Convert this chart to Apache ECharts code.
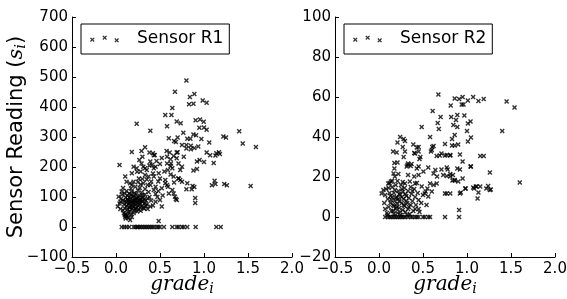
<!DOCTYPE html>
<html>
<head>
<meta charset="utf-8">
<script src="https://cdn.jsdelivr.net/npm/echarts@6/dist/echarts.min.js"></script>
<style>
  html, body { margin: 0; padding: 0; background: #fff; }
  #chart { width: 567px; height: 299px; }
</style>
</head>
<body>
<div id="chart"></div>
<script>
// grade_i vs sensor reading
var seriesNames = ['Sensor R1', 'Sensor R2'];
var gradeTicks = [-0.5, 0.0, 0.5, 1.0, 1.5, 2.0];
var r1Ticks = [-100, 0, 100, 200, 300, 400, 500, 600, 700];
var r2Ticks = [-20, 0, 20, 40, 60, 80, 100];

// [grade, reading]
var r1Points = [
  [0.80,488],[0.67,451],[0.84,433],[0.89,443],[0.83,409],[0.88,411],[0.985,422],[1.03,414],[0.64,397],[0.56,373],
  [0.63,373],[0.235,344],[0.58,336],[0.69,352],[0.735,346],[0.905,356],[0.955,358],[0.997,351],[0.947,331],[1.0,332],
  [1.03,324],[0.39,321],[0.765,314],[0.88,308],[0.91,306],[1.40,319],[1.22,302],[1.25,298],[0.60,296],[0.70,298],
  [0.81,294],[0.845,294],[0.97,293],[1.44,278],[1.59,267],[0.68,283],[0.66,287],[0.75,273],[0.80,273],[0.85,271],
  [0.80,262],[0.85,259],[0.89,263],[1.06,282],[1.03,248],[1.07,239],[1.13,238],[1.18,243],[0.92,218],[0.95,223],
  [1.0,217],[1.11,213],[0.88,188],[0.92,193],[1.12,154],[1.13,143],[1.09,139],[1.23,143],[1.26,139],[1.53,137],
  [0.81,146],[0.80,126],[0.86,126],[0.89,133],[0.87,137],[0.90,97],[0.90,80],[0.71,162],[0.73,157],[0.68,93],
  [0.485,20],[0.18,250],[0.29,253],[0.33,266],[0.38,248],[0.42,246],[0.575,253],[0.61,248],[0.69,248],[0.935,268],
  [1.14,246],[1.17,249],[0.43,239],[0.70,249],[0.30,234],[0.44,240],[0.58,234],[0.655,237],[0.69,229],[0.77,234],
  [0.62,226],[0.71,212],[0.625,212],[0.04,207],[0.29,212],[0.31,201],[0.33,196],[0.39,218],[0.41,207],[0.43,196],
  [0.45,201],[0.50,210],[0.58,212],[0.62,203],[0.64,196],[0.73,190],[0.75,201],[0.59,190],[0.265,223],[0.20,201],
  [0.235,196],[0.105,168],[0.18,179],[0.24,184],[0.26,162],[0.20,151],[0.12,151],[0.16,146],[0.18,140],[0.33,173],
  [0.37,168],[0.43,168],[0.485,179],[0.50,162],[0.56,157],[0.655,168],[0.71,162],[0.75,151],[0.31,146],[0.39,140],
  [0.43,123],[0.45,134],[0.52,129],[0.58,140],[0.64,123],[0.60,112],[0.655,112],[0.56,146],[0.59,134],[0.67,101],
  [0.69,90],[0.52,68],[0.33,79],[0.39,68],[0.45,84],[0.50,90],[0.065,118],[0.10,112],[0.03,101],[0.05,84],
  [0.02,68],[0.10,40],[0.105,34],[0.16,23],
  [0.06,95],[0.08,88],[0.09,75],[0.10,62],[0.11,98],[0.12,82],[0.12,70],[0.13,105],[0.13,58],[0.14,90],
  [0.14,77],[0.15,66],[0.15,112],[0.16,85],[0.16,52],[0.17,96],[0.17,72],[0.18,60],[0.18,118],[0.19,88],
  [0.19,79],[0.20,67],[0.20,103],[0.21,92],[0.21,55],[0.22,84],[0.22,74],[0.23,110],[0.23,63],[0.24,97],
  [0.24,81],[0.25,70],[0.25,122],[0.26,89],[0.26,58],[0.27,104],[0.27,76],[0.28,93],[0.28,66],[0.29,115],
  [0.30,84],[0.30,72],[0.31,98],[0.32,61],[0.33,108],[0.34,88],[0.35,75],[0.36,95],[0.37,117],[0.07,108],
  [0.08,56],[0.09,46],[0.11,43],[0.12,120],[0.13,38],[0.14,49],[0.15,99],[0.16,64],[0.17,42],[0.18,83],
  [0.19,69],[0.20,47],[0.21,113],[0.22,61],[0.23,89],[0.24,52],[0.25,100],[0.26,78],[0.28,54],[0.29,86],
  [0.31,64],[0.32,92],[0.34,70],[0.05,60],[0.04,78],[0.10,86],[0.13,92],[0.15,81],[0.17,108],[0.19,100],
  [0.21,79],[0.23,96],[0.27,87],[0.30,106],[0.12,36],[0.14,30],[0.18,33],[0.11,28],[0.08,130],[0.17,128],
  [0.22,134],[0.27,130],[0.33,127],[0.36,140],[0.28,142],[0.35,158],[0.40,152],[0.42,178],[0.45,110],[0.48,120],
  [0.38,100],[0.40,88],[0.42,72],[0.36,60],[0.47,100],[0.53,105],[0.25,150],[0.30,160],[0.28,185],[0.35,190],
  [0.38,205],[0.46,220],[0.52,230],[0.55,185],[0.62,175],[0.66,148],[0.48,152],
  [0.065,0],[0.094,0],[0.12,0],[0.15,0],[0.20,0],[0.22,0],[0.24,0],[0.25,0],[0.27,0],[0.29,0],
  [0.31,0],[0.33,0],[0.35,0],[0.37,0],[0.39,0],[0.41,0],[0.43,0],[0.46,0],[0.48,0],[0.50,0],
  [0.545,0],[0.64,0],[0.69,0],[0.71,0],[0.75,0],[0.77,0],[0.81,0],[0.905,0],[1.14,0],[1.19,0]
];

var r2Points = [
  [0.675,61.3],[0.86,59.3],[0.91,59],[0.95,60],[1.01,58.3],[1.07,60],[1.13,58],[1.19,59],[0.815,55.8],[0.94,56.3],
  [0.96,56.3],[1.45,57.8],[1.54,54.7],[0.61,53],[0.70,50],[0.82,50],[0.89,51],[0.875,48.5],[0.97,50.7],[0.667,47],
  [0.68,44],[0.845,46],[0.89,45],[1.01,46.8],[1.04,47.8],[0.485,45],[0.58,40],[0.86,41],[1.0,43],[1.045,39.7],
  [1.40,43],[0.24,40],[0.28,39],[0.83,39],[1.01,37.7],[0.75,36.5],[0.83,35.7],[0.86,35.7],[0.90,36.3],[0.62,35.5],
  [0.21,37.3],[0.295,38],[0.27,35],[0.39,36.3],[0.43,34.7],[0.45,35],[0.16,32.7],[0.20,32.3],[0.295,32.7],[0.41,31.8],
  [0.45,32.7],[0.60,33.5],[0.71,31.8],[0.92,31.3],
  [0.28,30],[0.175,27],[0.21,27.3],[0.40,32],[0.47,30],[0.46,29],[0.605,35],[0.59,32.7],[0.655,30.5],[0.69,30.7],
  [0.75,30.7],[0.81,30.7],[1.15,30.5],[1.19,30.5],[0.95,27.7],[1.04,25.2],[1.26,22.3],[1.60,17.2],[0.33,26.8],[0.37,26.5],
  [0.315,25.2],[0.36,25.5],[0.56,24.8],[0.64,23.5],[0.62,21.8],[0.66,20.2],[0.71,23.8],[0.73,21],[0.78,23.8],[0.81,20.2],
  [0.86,18.5],[0.90,17.7],[0.84,21],[0.95,19.3],[0.98,14.3],[0.93,12.3],[1.08,14.3],[1.11,15.2],[1.15,15.2],[1.13,12.2],
  [1.12,9.3],[1.22,14.3],[1.26,13.5],[1.24,15.5],[0.77,11.8],[0.81,11.8],[0.92,11.8],[0.91,3.5],[0.91,0],[0.75,0],
  [0.41,4],[0.45,4],[0.485,15.2],[0.55,14.3],[0.53,12.7],[0.50,11],[0.45,8.5],
  [0.175,24.3],[0.325,26],[0.43,24.3],[0.45,25.2],[0.505,22.7],[0.165,21.8],[0.22,21.5],[0.18,20.2],[0.33,21],[0.40,20.2],
  [0.45,21],[0.105,16.8],[0.135,17.7],[0.295,16.8],[0.35,17.7],[0.41,16.8],[0.58,16.8],[0.62,16],[0.655,16.8],[0.03,11.8],
  [0.05,13.5],[0.07,11],[0.52,11.8],[0.56,10.2],[0.60,12.7],[0.54,6],[0.75,11.8],[0.77,24.8],[0.89,24.3],[0.92,23.8],
  [1.045,25.2],[0.77,20.5],[0.81,21.5],[0.835,18.2],[0.86,18.2],[1.07,14.8],[1.10,15.2],[1.27,13.8],[0.985,14.3],[0.77,31],
  [0.81,31],
  [0.08,14],[0.10,9],[0.11,5],[0.12,12],[0.13,7],[0.14,3],[0.15,10],[0.15,15],[0.16,6],[0.17,1.5],
  [0.17,12],[0.18,8],[0.19,4],[0.19,16],[0.20,10],[0.21,6.5],[0.21,2],[0.22,13],[0.23,8],[0.23,4.5],
  [0.24,11],[0.25,1],[0.25,16],[0.26,7],[0.27,3.5],[0.27,12.5],[0.28,9],[0.29,5.5],[0.29,14.5],[0.30,2.5],
  [0.31,10.5],[0.32,7],[0.33,4],[0.33,13],[0.34,9.5],[0.35,1.5],[0.36,6],[0.37,11.5],[0.38,8],[0.39,3],
  [0.40,14],[0.41,10],[0.42,6],[0.44,12],[0.46,2.5],[0.48,7],[0.09,2],[0.12,17],[0.14,8.5],[0.16,3],
  [0.18,13.5],[0.20,5],[0.22,9],[0.24,2.5],[0.26,14],[0.28,6],[0.30,11.5],[0.32,1],[0.34,5],[0.36,15],
  [0.06,7],[0.07,4],[0.10,1],[0.13,10.5],[0.19,9.5],[0.26,10],[0.31,8],[0.38,13],[0.43,17],[0.21,18],
  [0.17,5.5],[0.23,11.5],[0.11,14.5],[0.27,17.5],[0.15,18],
  [0.07,0],[0.10,0],[0.12,0],[0.14,0],[0.16,0],[0.18,0],[0.20,0],[0.22,0],[0.24,0],[0.26,0],
  [0.28,0],[0.30,0],[0.33,0],[0.36,0],[0.38,0],[0.41,0],[0.43,0],[0.45,0],[0.50,0],[0.52,0],
  [0.56,0],[0.58,0]
];

var FONT = 'DejaVu Sans';
var MATH = 'DejaVu Serif';

// matplotlib 'x' marker as a filled outline (10x10 box)
var crossPts = [[0,2],[2,0],[5,3],[8,0],[10,2],[7,5],[10,8],[8,10],[5,7],[2,10],[0,8],[3,5]];
function crossPath(cx, cy, h) {
  var s = 2 * h / 10;
  return crossPts.map(function (p, i) {
    return (i ? 'L' : 'M') + (cx - h + p[0] * s).toFixed(2) + ',' + (cy - h + p[1] * s).toFixed(2);
  }).join('') + 'Z';
}
var markerSymbol = 'path://' + crossPath(5, 5, 5);
// three scattered markers in the legend, anchors keep the icon box 45x8
var legendIcon = 'path://M0,0M45,8' + crossPath(5.3, 4.7, 2.3) + crossPath(17.7, 2.7, 2.3) + crossPath(29.7, 5.3, 2.3);

function minus(v) { return String(v).replace('-', '\u2212'); }

var chart = echarts.init(document.getElementById('chart'), null, {renderer: 'canvas'});

function xAxisCfg(gridIndex) {
  return {
    type: 'value', gridIndex: gridIndex,
    min: gradeTicks[0], max: gradeTicks[gradeTicks.length - 1], interval: 0.5,
    splitLine: {show: false},
    axisLine: {show: true, onZero: false, lineStyle: {color: '#000', width: 1}},
    axisTick: {show: true, inside: true, length: 4, lineStyle: {color: '#000'}},
    axisLabel: {color: '#000', fontFamily: FONT, fontSize: 15, margin: 5,
      formatter: function (v) { return minus(v.toFixed(1)); }},
    name: '{m|grade}{sub|i}', nameLocation: 'middle', nameGap: 16, nameMoveOverlap: false,
    nameTextStyle: {rich: {
      m: {fontFamily: MATH, fontStyle: 'italic', fontSize: 20, color: '#000'},
      sub: {fontFamily: MATH, fontStyle: 'italic', fontSize: 14, color: '#000', padding: [9, 0, 0, 0]}
    }}
  };
}

function yAxisCfg(gridIndex, ticks, withName) {
  var cfg = {
    type: 'value', gridIndex: gridIndex,
    min: ticks[0], max: ticks[ticks.length - 1], interval: ticks[1] - ticks[0],
    splitLine: {show: false},
    axisLine: {show: true, onZero: false, lineStyle: {color: '#000', width: 1}},
    axisTick: {show: true, inside: true, length: 4, lineStyle: {color: '#000'}},
    axisLabel: {color: '#000', fontFamily: FONT, fontSize: 15, margin: 4, formatter: minus}
  };
  if (withName) {
    cfg.name = '{t|Sensor Reading (}{m|s}{sub|i}{t|)}';
    cfg.nameLocation = 'middle';
    cfg.nameGap = 43;
    cfg.nameMoveOverlap = false;
    cfg.nameTextStyle = {rich: {
      t: {fontFamily: FONT, fontSize: 21, color: '#000'},
      m: {fontFamily: MATH, fontStyle: 'italic', fontSize: 21, color: '#000'},
      sub: {fontFamily: MATH, fontStyle: 'italic', fontSize: 15, color: '#000', padding: [10, 0, 0, 0]}
    }};
  }
  return cfg;
}

function legendCfg(name, left) {
  return {
    data: [name], left: left, top: 24, orient: 'horizontal',
    icon: legendIcon, itemWidth: 45, itemHeight: 8,
    padding: [5, 6, 5, 6], borderColor: '#000', borderWidth: 1, borderRadius: 0,
    backgroundColor: '#fff', selectedMode: false,
    textStyle: {fontFamily: FONT, fontSize: 17, color: '#000', lineHeight: 20}
  };
}

var option = {
  animation: false,
  backgroundColor: '#fff',
  grid: [
    {left: 72, top: 17, width: 220, height: 240, containLabel: false, outerBoundsMode: 'none'},
    {left: 335, top: 17, width: 220, height: 240, containLabel: false, outerBoundsMode: 'none'}
  ],
  xAxis: [xAxisCfg(0), xAxisCfg(1)],
  yAxis: [yAxisCfg(0, r1Ticks, true), yAxisCfg(1, r2Ticks, false)],
  legend: [legendCfg(seriesNames[0], 81), legendCfg(seriesNames[1], 344)],
  series: [
    {name: seriesNames[0], type: 'scatter', xAxisIndex: 0, yAxisIndex: 0,
      symbol: markerSymbol, symbolSize: 5, itemStyle: {color: '#000'}, data: r1Points},
    {name: seriesNames[1], type: 'scatter', xAxisIndex: 1, yAxisIndex: 1,
      symbol: markerSymbol, symbolSize: 5, itemStyle: {color: '#000'}, data: r2Points}
  ]
};

chart.setOption(option);
</script>
</body>
</html>
